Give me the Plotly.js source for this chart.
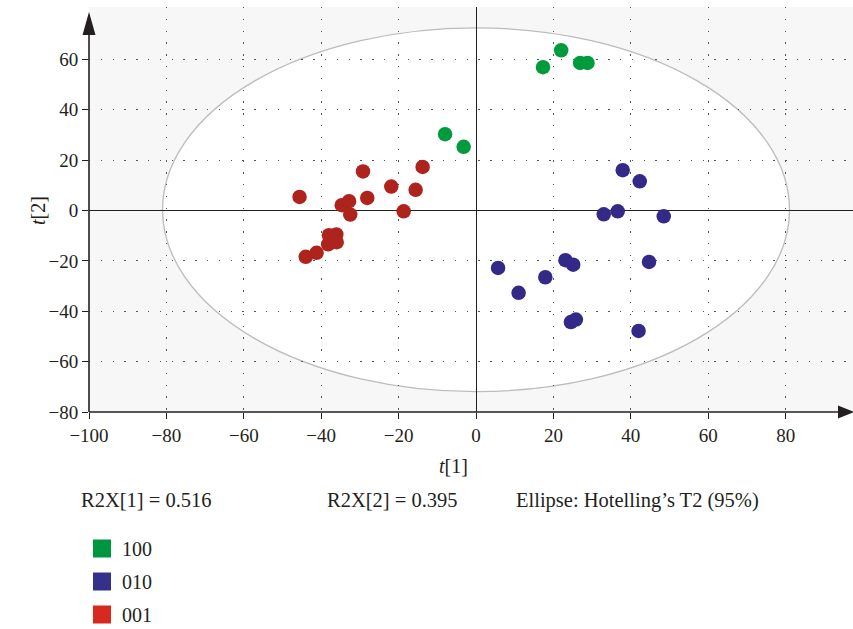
<!DOCTYPE html>
<html>
<head>
<meta charset="utf-8">
<script src="https://cdn.plot.ly/plotly-3.0.1.min.js"></script>
<style>html,body{margin:0;padding:0;background:#fff;}#chart{width:853px;height:629px;}</style>
</head>
<body>
<div id="chart"></div>
<script>
// ---- data (scores t[1], t[2]) ----
const groupNames = ["100", "010", "001"];
const green_t1 = [17.3, 22.0, 26.9, 28.8, -8.0, -3.2];
const green_t2 = [56.9, 63.6, 58.6, 58.6, 30.3, 25.3];
const blue_t1 = [37.9, 42.3, 33.0, 36.6, 48.5, 5.7, 11.0, 17.9, 23.1, 25.1, 44.7, 24.5, 25.8, 42.0];
const blue_t2 = [16.0, 11.6, -1.5, -0.3, -2.3, -22.8, -32.7, -26.5, -19.7, -21.5, -20.4, -44.3, -43.3, -47.8];
const red_t1 = [-45.6, -29.2, -13.8, -21.9, -15.6, -28.1, -34.7, -32.8, -32.5, -18.7, -38.0, -36.1, -38.2, -36.0, -41.2, -44.0];
const red_t2 = [5.4, 15.5, 17.3, 9.5, 8.2, 5.0, 2.1, 3.7, -1.6, -0.3, -9.8, -9.5, -13.4, -12.6, -16.8, -18.4];
const xTicks = [-100, -80, -60, -40, -20, 0, 20, 40, 60, 80];
const yTicks = [-80, -60, -40, -20, 0, 20, 40, 60];
const ellipseA = 81;      // Hotelling's T2 (95%) semi-axis t[1]
const ellipseB = 71.9;    // semi-axis t[2]
const statsText = ["R2X[1] = 0.516", "R2X[2] = 0.395", "Ellipse: Hotelling\u2019s T2 (95%)"];
const xTitle = "<i>t</i>[1]";
const yTitle = "<i>t</i>[2]";

const markerColors = ["#019a3d", "#332a87", "#ae231b"];
const legendColors = ["#00963f", "#35308a", "#d7291e"];
const FONT = "Liberation Serif, Times New Roman, serif";

const series = [[green_t1, green_t2], [blue_t1, blue_t2], [red_t1, red_t2]];
const traces = [];
series.forEach((s, i) => {
  traces.push({
    type: "scatter", mode: "markers", x: s[0], y: s[1], name: groupNames[i],
    showlegend: false, hoverinfo: "x+y+name",
    marker: {size: 14.5, color: markerColors[i], line: {width: 0}}
  });
});
groupNames.forEach((n, i) => {
  traces.push({
    type: "scatter", mode: "markers", x: [null], y: [null], name: n,
    showlegend: true, legendgroup: "g" + i,
    marker: {symbol: "square", size: 16, color: legendColors[i], line: {width: 2, color: legendColors[i]}}
  });
});

// plot area in px: left 89, right 853, top 7, bottom 412
const W = 764, H = 405;
const px = (p) => (p - 89) / W;
const py = (p) => (412 - p) / H;

const layout = {
  width: 853, height: 629,
  margin: {l: 89, r: 0, t: 7, b: 217, autoexpand: false},
  paper_bgcolor: "#ffffff",
  plot_bgcolor: "#f7f7f7",
  font: {family: FONT, size: 19, color: "#231f20"},
  xaxis: {
    range: [-100, 97.4], tickvals: xTicks, ticks: "outside", ticklen: 6, tickwidth: 1.3, tickcolor: "#231f20",
    showline: false, showgrid: true, gridcolor: "#555555", griddash: "1.3px,10.5px", gridwidth: 1.3,
    zeroline: true, zerolinecolor: "#231f20", zerolinewidth: 1.4, automargin: false,
    tickfont: {family: FONT, size: 19},
    fixedrange: true
  },
  yaxis: {
    range: [-80, 80.8], tickvals: yTicks, ticks: "outside", ticklen: 6, tickwidth: 1.3, tickcolor: "#231f20",
    showline: false, showgrid: true, gridcolor: "#555555", griddash: "1.3px,10.5px", gridwidth: 1.3,
    zeroline: true, zerolinecolor: "#231f20", zerolinewidth: 1.4, automargin: false,
    tickfont: {family: FONT, size: 19},
    fixedrange: true
  },
  showlegend: true,
  legend: {
    xref: "container", yref: "container", x: 82 / 853, y: 1 - 529 / 629, xanchor: "left", yanchor: "top",
    font: {family: FONT, size: 20, color: "#231f20"}, bgcolor: "rgba(0,0,0,0)", tracegroupgap: 4,
    traceorder: "grouped", itemclick: false, itemdoubleclick: false
  },
  shapes: [
    {type: "circle", xref: "x", yref: "y", x0: -ellipseA, x1: ellipseA, y0: -ellipseB, y1: ellipseB + 0.6,
     fillcolor: "#ffffff", line: {color: "#bcbcbc", width: 1.3}, layer: "below"},
    // y axis line and arrow
    {type: "line", xref: "paper", yref: "paper", x0: 0, x1: 0, y0: 0, y1: py(34), line: {color: "#231f20", width: 1.6}},
    {type: "path", xref: "paper", yref: "paper",
     path: `M ${px(89)},${py(12)} L ${px(95.5)},${py(35)} L ${px(82.5)},${py(35)} Z`,
     fillcolor: "#231f20", line: {width: 0}},
    // x axis line and arrow
    {type: "line", xref: "paper", yref: "paper", x0: 0, x1: px(842), y0: 0, y1: 0, line: {color: "#231f20", width: 1.6}},
    {type: "path", xref: "paper", yref: "paper",
     path: `M ${px(854)},${py(412)} L ${px(838)},${py(405.5)} L ${px(838)},${py(418.5)} Z`,
     fillcolor: "#231f20", line: {width: 0}}
  ],
  annotations: [
    {text: xTitle, xref: "paper", yref: "paper", x: px(453), y: py(466), xanchor: "center", yanchor: "middle", showarrow: false, font: {family: FONT, size: 20}},
    {text: yTitle, xref: "paper", yref: "paper", x: px(38), y: py(211), xanchor: "center", yanchor: "middle", textangle: -90, showarrow: false, font: {family: FONT, size: 20}},
    {text: statsText[0], xref: "paper", yref: "paper", x: px(79), y: py(500), xanchor: "left", yanchor: "middle", showarrow: false, font: {family: FONT, size: 20.5}},
    {text: statsText[1], xref: "paper", yref: "paper", x: px(325), y: py(500), xanchor: "left", yanchor: "middle", showarrow: false, font: {family: FONT, size: 20.5}},
    {text: statsText[2], xref: "paper", yref: "paper", x: px(514), y: py(500), xanchor: "left", yanchor: "middle", showarrow: false, font: {family: FONT, size: 20.5}}
  ]
};

Plotly.newPlot("chart", traces, layout, {displayModeBar: false, staticPlot: false});
</script>
</body>
</html>
